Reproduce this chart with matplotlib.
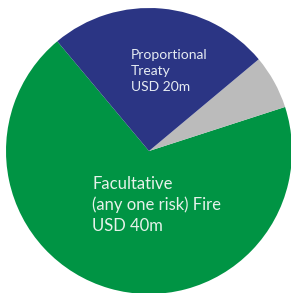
import matplotlib.pyplot as plt

# wedge shares (degrees / 3.6)
labels = ["Facultative\n(any one risk) Fire\nUSD 40m", "Other", "Proportional\nTreaty\nUSD 20m"]
shares = [68.9, 6.1, 25.0]
colors = ["#009444", "#BBBBBB", "#2B3584"]

fig = plt.figure(figsize=(2.91, 2.93), dpi=100)
ax = fig.add_axes([0, 0, 1, 1])

ax.pie(shares, colors=colors, startangle=129.9, counterclock=True,
       center=(149, 142), radius=143, wedgeprops=dict(linewidth=0))

ax.set_xlim(0, 291)
ax.set_ylim(0, 293)
ax.set_aspect("equal")
ax.axis("off")

ax.text(131, 293 - 71, labels[2], color="#E6ECF2", fontsize=10, family="Lato",
        ha="left", va="center", linespacing=1.37)
ax.text(92, 293 - 205, labels[0], color="#E6F2EA", fontsize=12, family="Lato",
        ha="left", va="center", linespacing=1.35)

fig.savefig("out.png", dpi=100)
